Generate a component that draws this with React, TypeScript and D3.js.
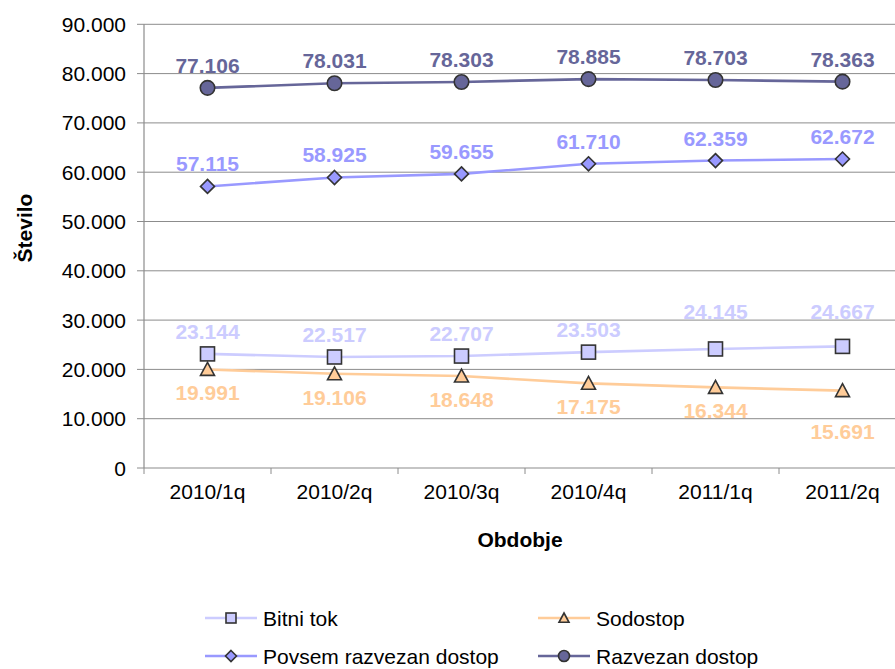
import React from "react";
import * as d3 from "d3";

const categories = ["2010/1q", "2010/2q", "2010/3q", "2010/4q", "2011/1q", "2011/2q"];
const bitniTok = [23144, 22517, 22707, 23503, 24145, 24667];
const sodostop = [19991, 19106, 18648, 17175, 16344, 15691];
const povsem = [57115, 58925, 59655, 61710, 62359, 62672];
const razvezan = [77106, 78031, 78303, 78885, 78703, 78363];
const yTicks = [0, 10000, 20000, 30000, 40000, 50000, 60000, 70000, 80000, 90000];

const FONT = "'Liberation Sans', Arial, sans-serif";
const W = 895;
const H = 669;

type Series = {
  name: string;
  values: number[];
  color: string;
  marker: "square" | "triangle" | "diamond" | "circle";
  labelPos: "above" | "below";
  labelShift: number[];
};

const series: Series[] = [
  { name: "Bitni tok", values: bitniTok, color: "#CCCCFF", marker: "square", labelPos: "above", labelShift: [0, 0, 0, 0, -15, -12] },
  { name: "Sodostop", values: sodostop, color: "#FFCC99", marker: "triangle", labelPos: "below", labelShift: [0, 0, 0, 0, 0, 17] },
  { name: "Povsem razvezan dostop", values: povsem, color: "#9999FF", marker: "diamond", labelPos: "above", labelShift: [0, 0, 0, 0, 0, 0] },
  { name: "Razvezan dostop", values: razvezan, color: "#666699", marker: "circle", labelPos: "above", labelShift: [0, 0, 0, 0, 0, 0] },
];

const locale = d3.formatLocale({ decimal: ",", thousands: ".", grouping: [3], currency: ["", "€"] });
const fmt = locale.format(",.0f");

function Marker({ type, x, y, size, fill }: { type: string; x: number; y: number; size: number; fill: string }) {
  const s = size;
  const stroke = "#333333";
  const sw = 1.6;
  if (type === "square") {
    return <rect x={x - s / 2} y={y - s / 2} width={s} height={s} fill={fill} stroke={stroke} strokeWidth={sw} />;
  }
  if (type === "circle") {
    return <circle cx={x} cy={y} r={s / 2} fill={fill} stroke={stroke} strokeWidth={sw} />;
  }
  if (type === "diamond") {
    const h = s / 2;
    return <path d={`M${x},${y - h}L${x + h},${y}L${x},${y + h}L${x - h},${y}Z`} fill={fill} stroke={stroke} strokeWidth={sw} />;
  }
  const h = s / 2;
  return <path d={`M${x},${y - h}L${x + h},${y + h * 0.85}L${x - h},${y + h * 0.85}Z`} fill={fill} stroke={stroke} strokeWidth={sw} />;
}

export default function App() {
  const left = 144;
  const bottom = 468;
  const top = 24.3;
  const x = d3.scaleBand<string>().domain(categories).range([left, left + 127 * categories.length]).paddingInner(0).paddingOuter(0);
  const y = d3.scaleLinear().domain([0, 90000]).range([bottom, top]);
  const cx = (c: string) => (x(c) as number) + x.bandwidth() / 2;
  const line = d3.line<number>().x((_, i) => cx(categories[i])).y((v) => y(v));

  const legendItems = [
    { s: series[0], lx: 205, ly: 618 },
    { s: series[1], lx: 538, ly: 618 },
    { s: series[2], lx: 205, ly: 656 },
    { s: series[3], lx: 538, ly: 656 },
  ];

  return (
    <svg width={W} height={H} style={{ position: "absolute", left: 0, top: 0, background: "#fff" }} fontFamily={FONT}>
      <rect x={0} y={0} width={W} height={H} fill="#ffffff" />
      {/* gridlines */}
      {yTicks.map((t) => (
        <g key={t}>
          {t > 0 && <line x1={left} x2={W} y1={y(t)} y2={y(t)} stroke="#8c8c8c" strokeWidth={1} />}
          <line x1={left - 7} x2={left} y1={y(t)} y2={y(t)} stroke="#8c8c8c" strokeWidth={1} />
          <text x={126} y={y(t)} dy="0.36em" textAnchor="end" fontSize={21} fill="#000">
            {fmt(t)}
          </text>
        </g>
      ))}
      {/* axes */}
      <line x1={left} x2={left} y1={top} y2={bottom} stroke="#8c8c8c" strokeWidth={1.2} />
      <line x1={left} x2={W} y1={bottom} y2={bottom} stroke="#8c8c8c" strokeWidth={1.2} />
      {categories.map((c) => (
        <g key={c}>
          <line x1={(x(c) as number)} x2={(x(c) as number)} y1={bottom} y2={bottom + 6} stroke="#8c8c8c" strokeWidth={1} />
          <text x={cx(c)} y={499} textAnchor="middle" fontSize={21} fill="#000">
            {c}
          </text>
        </g>
      ))}
      {/* axis titles */}
      <text transform="translate(32,228) rotate(-90)" textAnchor="middle" fontSize={21} fontWeight="bold" fill="#000">
        Število
      </text>
      <text x={520} y={547} textAnchor="middle" fontSize={21} fontWeight="bold" fill="#000">
        Obdobje
      </text>
      {/* series lines */}
      {series.map((s) => (
        <path key={s.name} d={line(s.values) || ""} fill="none" stroke={s.color} strokeWidth={2.6} />
      ))}
      {/* markers */}
      {series.map((s) =>
        s.values.map((v, i) => (
          <Marker key={s.name + i} type={s.marker} x={cx(categories[i])} y={y(v)} size={s.marker === "circle" ? 14.5 : 14} fill={s.color} />
        ))
      )}
      {/* data labels */}
      {series.map((s) =>
        s.values.map((v, i) => (
          <text
            key={"l" + s.name + i}
            x={cx(categories[i])}
            y={y(v) + (s.labelPos === "above" ? -15 : 31) + s.labelShift[i]}
            textAnchor="middle"
            fontSize={21}
            fontWeight="bold"
            fill={s.color}
          >
            {fmt(v)}
          </text>
        ))
      )}
      {/* legend */}
      {legendItems.map(({ s, lx, ly }) => (
        <g key={"lg" + s.name}>
          <line x1={lx} x2={lx + 52} y1={ly} y2={ly} stroke={s.color} strokeWidth={2.6} />
          <Marker type={s.marker} x={lx + 26} y={ly} size={s.marker === "circle" ? 11 : s.marker === "diamond" ? 11 : 10} fill={s.color} />
          <text x={lx + 58} y={ly} dy="0.36em" fontSize={21} fill="#000">
            {s.name}
          </text>
        </g>
      ))}
    </svg>
  );
}
